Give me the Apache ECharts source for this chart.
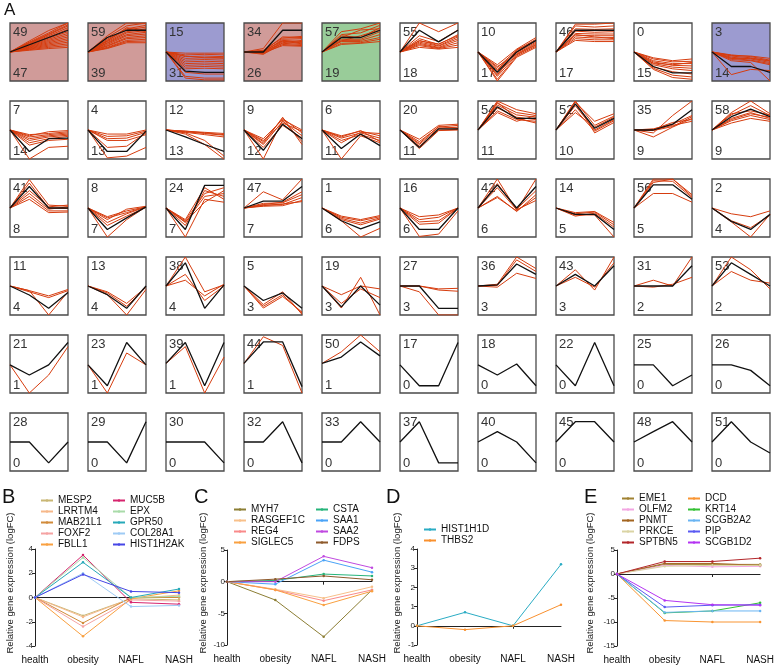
<!DOCTYPE html>
<html><head><meta charset="utf-8">
<script src="https://cdn.jsdelivr.net/npm/echarts/dist/echarts.min.js"></script>
<style>html,body{margin:0;padding:0;background:#fff}#c{width:777px;height:669px}</style>
</head><body><div id="c"></div><script>
// ---------- DATA ----------
const timePoints = ['health','obesity','NAFL','NASH'];

// Panel A: STEM profiles (row-major, 6 rows x 10 columns)
const profileIds = [49,59,15,34,57,55,10,46,0,3, 7,4,12,9,6,20,54,52,35,58, 41,8,24,47,1,16,42,14,56,2, 11,13,38,5,19,27,36,43,31,53, 21,23,39,44,50,17,18,22,25,26, 28,29,30,32,33,37,40,45,48,51];
const geneCounts = [47,39,31,26,19,18,17,17,15,14, 14,13,13,12,11,11,11,10,9,9, 8,7,7,7,6,6,6,5,5,4, 4,4,4,3,3,3,3,3,2,2, 1,1,1,1,1,0,0,0,0,0, 0,0,0,0,0,0,0,0,0,0];
const upProfiles = [49,59,34];
const downProfiles = [15,3];
const otherSigProfiles = [57];

const modelProfiles = [
 [5,6.25,7.5,8.75],[5,7.5,8.75,8.75],[5,1.7,1.5,1.5],[5,5,8.75,8.75],[5,7.5,7.5,8.75],[5,8.75,6.75,8.75],[5,1.5,5,7],[5,8.75,8.75,8.75],[5,2.5,1.4,1.4],[5,2.5,2.5,1.5],
 [5,1.3,3.5,3.6],[5,1.3,1.3,4.8],[5,3.8,2.5,1.3],[5,1.5,6,3.5],[5,1.8,4.3,2.3],[5,2,5.2,5.2],[5,9,7,7],[5,9.5,5.3,7],[5,5,6,8.5],[5,7.3,8.6,7.3],
 [5,8.7,5,5],[5,1.3,3.3,5.2],[5,1.3,8.9,8.9],[5,6.2,6.2,8.7],[5,2.8,1.4,2.6],[5,1.3,1.3,5],[5,9,5,8.7],[5,3.9,3.9,1.3],[5,9,9,6.5],[5,2.7,1.3,3.9],
 [5,3.45,1.15,3.9],[5,3.5,1.15,5],[5,9,1.15,5.2],[5,2.5,3.8,1.15],[5,1.4,5,1.7],[5,5,1.15,1.15],[5,5.2,8.8,7],[5,7,5,8.5],[5,5,5,8.5],[5,9,7,5],
 [4.85,3.1,4.85,8.7],[4.85,1.25,8.7,4.85],[5.1,8.7,1.25,8.7],[5.1,8.8,8.8,1.1],[5.1,6.2,8.8,6.4],[4.85,1.25,1.25,8.7],[4.85,3.1,5,1.25],[4.85,1.25,8.7,1.25],[4.85,4.85,1.25,3.1],[4.85,4.85,3.9,1.25],
 [5,5,1.4,5],[5,5,1.4,8.5],[5,5,5,1.4],[5,5,8.5,1.4],[5,5,8.5,5],[5,8.5,1.4,1.4],[5,6.8,5,1.4],[5,8.5,8.5,5],[5,6.8,8.5,5],[5,8.5,5,3.1]
];

const geneProfiles = [
 // row 1
 [[5,6.9,8.7,10],[5,6.7,8.3,10],[5,6.6,8.1,9.7],[5,6.5,8,9.5],[5,6.4,7.8,9.2],[5,6.3,7.6,8.9],[5,6.2,7.4,8.5],[5,6.1,7.2,8.2],[5,6,7,7.9],[5,5.9,6.8,7.6],[5,5.8,6.6,7.3],[5,5.7,6.4,7],[5,5.6,6.2,6.7],[5,5.5,6,6.4],[5,5.4,5.8,6.1],[5,5.3,5.6,5.8]],
 [[5,7.8,10,10],[5,7.5,9.5,10],[5,7.2,9,9.6],[5,7,8.8,9.3],[5,6.8,8.5,9],[5,6.6,8.3,8.7],[5,6.5,8,8.4],[5,6.3,7.8,8.1],[5,6.1,7.5,7.8],[5,6,7.3,7.5],[5,5.8,7,7.2],[5,5.7,6.8,6.9],[5,5.6,6.6,6.6],[5,6.9,9.2,8.5]],
 [[5,4.8,4.8,4.8],[5,4.5,4.6,4.5],[5,4.2,4.3,4.2],[5,3.9,4,3.9],[5,3.6,3.7,3.6],[5,3.3,3.4,3.3],[5,3,3.1,3],[5,2.7,2.8,2.7],[5,2.4,2.5,2.4],[5,2.1,2.2,2.1],[5,1.5,1.2,1.2],[5,0.5,0.2,0.2],[5,0.8,0.5,0.5],[5,4.3,4,4.1]],
 [[5,5.6,10,10],[5,5.2,7.6,7.5],[5,4.9,7.2,7.3],[5,5.1,7,6.8],[5,4.8,6.8,6.6],[5,5,6.5,6.3],[5,4.7,6.3,6.1],[5,5.3,7.4,7.7],[5,4.9,6.1,6],[5,4.6,6.6,7],[5,5.2,6.9,6.4]],
 [[5,8.5,9,10],[5,8,8.3,9.6],[5,7.8,7.5,9.2],[5,7.2,7.2,8.5],[5,7,7,8],[5,6.8,6.8,7.5],[5,6.5,6.6,7.2],[5,6.3,6.5,6.8],[5,7.5,8.8,9],[5,6.9,7.8,8.8]],
 [[5,10,8.5,10],[5,7.3,6.3,8],[5,7,6.1,7.6],[5,6.7,6,7.3],[5,6.5,5.8,7],[5,6.3,5.7,6.6],[5,6.1,5.6,6.2],[5,5.8,5.5,5.8],[5,7.8,6.8,8.8],[5,6.9,6.4,7.8]],
 [[5,2.8,5.5,7.5],[5,2.3,5.3,7.2],[5,2,5.1,7],[5,1.8,4.9,6.7],[5,1.2,4.7,6.5],[5,0.8,4.5,6.2],[5,0.3,4.3,6],[5,0,4.1,5.8],[5,2.5,4.6,6.3],[5,1,5.4,6.9]],
 [[5,9.8,9.8,10],[5,9.5,9.3,9.5],[5,9,8.9,9],[5,8.6,8.4,8.5],[5,8.2,8.1,8.1],[5,7.9,7.8,7.8],[5,7.6,7.4,7.5],[5,7.3,7.1,7.1],[5,7,6.8,6.8],[5,8,7.6,7.3]],
 [[5,4,3.5,3.8],[5,3.8,3.3,3.4],[5,3.5,3,3],[5,3.3,2.7,2.6],[5,3,2.4,2.2],[5,2.8,2.1,1.8],[5,2.2,1,0.7],[5,2,0.6,0.3],[5,2.4,1.6,1.2],[5,3.1,2.8,3.2]],
 [[5,4.5,4.2,3.6],[5,4.3,4,3.4],[5,4.1,3.8,3.2],[5,3.9,3.6,3],[5,3.7,3.5,2.8],[5,1.1,2,1.8],[5,3.5,3.2,0],[5,3.9,3.9,3.5],[5,4.4,4.3,3.9]],
 // row 2
 [[5,4.2,4.4,4.7],[5,3.8,4.2,4.5],[5,3.5,4,4.3],[5,3.2,3.8,4.1],[5,2.8,3.5,3.9],[5,0,2,2.2],[5,4,4.7,4.9],[5,2.4,3.2,3.4]],
 [[5,4.3,4.3,5],[5,3.9,4,4.8],[5,3.5,3.6,4.6],[5,2,2.2,4.5],[5,0.2,0.5,2],[5,3.2,3.2,4.2]],
 [[5,4.8,4.6,4.4],[5,4.7,4.4,4.1],[5,4.6,4.2,3.8],[5,4.5,3.2,0.5],[5,4.3,2.5,0],[5,4.8,4.5,4.2]],
 [[5,3,7,4.5],[5,2.5,6.5,4],[5,0,6.7,3],[5,3.5,6.8,5],[5,2,5.8,3.6],[5,3.2,6.2,4.8],[5,2.7,7.2,2.5]],
 [[5,4,4.8,4],[5,3.6,4.5,3.6],[5,3.2,4.2,3.2],[5,0,4,2.8],[5,2.8,4.6,4.4],[5,3.8,4.9,3]],
 [[5,3,5.5,5.8],[5,2.5,5.3,5.5],[5,2.2,5,5.1],[5,2.7,5.6,5.3],[5,1.8,4.9,5],[5,3.4,5.8,6]],
 [[5,10,8.5,7.8],[5,9.6,8,7.5],[5,9.3,7.6,7.2],[5,8.8,7.2,6.8],[5,8.3,6.8,6.5],[5,8,6.5,7.5],[5,9.8,7,6.2]],
 [[5,10,5.8,7.4],[5,9.8,6.5,7.8],[5,9.2,5,6.8],[5,8.5,4.8,6.6],[5,8,5.5,7.2],[5,10,4.5,6.3]],
 [[5,4.5,7.5,10],[5,3.8,5.5,7],[5,5.2,6,7.5],[5,5,5.8,6.5],[5,5.1,6.3,6.8],[5,4.9,5.6,7.3]],
 [[5,8,10,7.8],[5,7.6,9.2,7.5],[5,7,8,7],[5,6.6,7.5,6.8],[5,6.2,7,6.5],[5,7.8,8.3,7.6],[5,6.8,7.8,7.2]],
 // row 3
 [[5,9.9,5.5,5.3],[5,8,5.2,5.5],[5,7.5,4.8,5.2],[5,7,4.5,4.5],[5,6.5,4.2,4.3],[5,9.3,5,4.9]],
 [[5,3.5,4.5,5.2],[5,3.3,4.2,5.2],[5,2.5,4,5.2],[5,0,3,5.2],[5,2,3.6,5.1],[5,3,4.8,5.3]],
 [[5,3,8.5,6.5],[5,2.8,7.5,8.5],[5,2.5,7,7.5],[5,0,6.5,6],[5,2,8,7],[5,2.6,6,8]],
 [[5,7.8,6.4,10],[5,5.8,5.9,7.3],[5,5.5,5.6,6.8],[5,5.3,5.4,6.3],[5,5.6,6,7.8],[5,5.4,5.7,6.1]],
 [[5,3.4,2.8,3.5],[5,3.2,2.4,3.3],[5,3,2.1,3.1],[5,2.8,0,1.5],[5,3.6,3,3.7]],
 [[5,3.5,3.8,5],[5,3,3.4,5],[5,2.6,2.8,5],[5,2.2,2.4,5],[5,0.1,0.5,4.5]],
 [[5,10,4.6,10],[5,7,4.4,7.3],[5,6.8,4.5,6.8],[5,9.2,4.8,8],[5,8.5,4.7,6.3]],
 [[5,4.2,4.4,2.5],[5,4,4.3,2.1],[5,3.6,4.1,1.7],[5,3.8,3.8,0]],
 [[5,10,10,7],[5,9.7,9.6,6.8],[5,9.4,10,7.3],[5,7.5,7.5,6]],
 [[5,4,3.5,4.5],[5,2.8,1.6,3.8],[5,2.6,0,3.9]],
 // row 4
 [[5,4.2,3.3,4.4],[5,4,3,4.2],[5,4.2,0,4]],
 [[5,4,2,4.8],[5,3.8,1.5,4.8],[5,3.5,0,4.4]],
 [[5,10,4,5.2],[5,7,2.5,5],[5,6,3.3,5.3]],
 [[5,1.2,3.2,0.5],[5,1.5,3.5,0.3],[5,1.8,4,0.1]],
 [[5,1.2,6.5,0],[5,3.5,5,4.5],[5,2,4.5,3]],
 [[5,5,4.5,4.6],[5,5,4.3,4.1],[5,4,0,0]],
 [[5,5.3,10,8],[5,5.1,9.5,7.5],[5,4.8,7.2,6.3]],
 [[5,7.8,4.3,10],[5,6.5,4.8,9]],
 [[5,6,5,10],[5,4.8,5.3,6.5]],
 [[5,10,7.8,4.5],[5,7.5,6,5.5]],
 // row 5
 [[4.85,0,3.1,8]],[[4.85,0,6.9,4.85]],[[5.1,8,0,6.2]],[[5.1,9.7,8.2,0]],[[5.1,7.1,10,7.1]],[],[],[],[],[],
 // row 6
 [],[],[],[],[],[],[],[],[],[]
];

// Panel B
const bGenes = ['MESP2','LRRTM4','MAB21L1','FOXF2','FBLL1','MUC5B','EPX','GPR50','COL28A1','HIST1H2AK'];
const bValues = [[0,-1.5,-0.1,-0.2],[0,-1.6,-0.1,0.2],[0,-2.1,0,0],[0,-2.4,-0.2,-0.3],[0,-3.2,-0.1,0.55],[0,3.5,-0.4,-0.55],[0,3.3,0,0.1],[0,2.9,0,0.7],[0,2.0,-0.75,-0.65],[0,1.9,0.5,0.4]];
// Panel C
const cGenes = ['MYH7','RASGEF1C','REG4','SIGLEC5','CSTA','SAA1','SAA2','FDPS'];
const cValues = [[0,-2.9,-8.7,-1.3],[0,-1.2,-2.6,-0.8],[0,-1.3,-3.0,-1.3],[0,-1.3,-3.7,-1.5],[0,0.2,1.2,0.9],[0,-0.4,3.4,1.5],[0,0,4.0,2.2],[0,0.4,0.9,0.3]];
// Panel D
const dGenes = ['HIST1H1D','THBS2'];
const dValues = [[0,0.7,0,3.2],[0,-0.2,0,1.1]];
// Panel E
const eGenes = ['EME1','OLFM2','PNMT','PRKCE','SPTBN5','DCD','KRT14','SCGB2A2','PIP','SCGB1D2'];
const eValues = [[0,2.0,2.0,2.0],[0,1.8,1.5,1.6],[0,2.2,2.2,1.8],[0,1.6,1.8,1.8],[0,2.6,2.6,3.3],[0,-9.7,-10,-10],[0,-8.1,-7.7,-6.0],[0,-8.0,-7.7,-7.7],[0,-6.9,-6.5,-6.4],[0,-5.5,-6.4,-6.5]];
const yAxisName = 'Relative gene expression (logFC)';

// ---------- STYLES / LAYOUT ----------
const FONT = '"Liberation Sans", Arial, Helvetica, sans-serif';
const bColors = ['#c9b774','#f6b88a','#d18b3a','#f5a3a3','#f9a040','#d6246e','#a9dba9','#26a9b9','#9ecbf5','#4646e6'];
const cColors = ['#8c7e34','#f8c08a','#f98a8a','#f9a040','#26b47a','#4aa3f7','#c04ae0','#8e5a2c'];
const dColors = ['#2aacc4','#f9902e'];
const eColors = ['#a08232','#f2a6e2','#a3641f','#dad4a4','#b3262a','#f99532','#34c034','#6ab4f2','#5a5af2','#b434f2'];

const chart = echarts.init(document.getElementById('c'), null, {renderer:'canvas'});
const grid=[], xAxis=[], yAxis=[], series=[], graphic=[], legend=[];

function cellBg(pid){
  if (upProfiles.includes(pid)) return '#d09b99';
  if (downProfiles.includes(pid)) return '#9c9bd0';
  if (otherSigProfiles.includes(pid)) return '#99cc99';
  return '#ffffff';
}

profileIds.forEach((pid,i)=>{
  const r=Math.floor(i/10), c=i%10;
  const left=10+78*c, top=23+78*r;
  grid.push({left, top, width:58, height:58, show:true, borderColor:'#4a4a4a', borderWidth:1.3, backgroundColor:cellBg(pid)});
  xAxis.push({type:'category', gridIndex:i, data:timePoints, boundaryGap:false, show:false});
  yAxis.push({type:'value', gridIndex:i, min:0, max:10, show:false});
  geneProfiles[i].forEach(g=>series.push({type:'line', xAxisIndex:i, yAxisIndex:i, data:g, symbol:'none', silent:true,
    lineStyle:{color:'#d63c0e', width:1}, z:3}));
  series.push({type:'line', xAxisIndex:i, yAxisIndex:i, data:modelProfiles[i], symbol:'none', silent:true,
    lineStyle:{color:'#111', width:1.3}, z:4});
  graphic.push({type:'text', left:left+3, top:top+3, z:2, style:{text:String(pid), font:'13px '+FONT, fill:'#333'}});
  graphic.push({type:'text', left:left+3, top:top+44, z:2, style:{text:String(geneCounts[i]), font:'13px '+FONT, fill:'#333'}});
});

graphic.push({type:'text', left:4, top:2, style:{text:'A', font:'17px '+FONT, fill:'#111'}});

const panels = [
  {label:'B', lx:2, genes:bGenes, vals:bValues, colors:bColors, grid:{left:35,top:549,width:144,height:97}, y:{min:-4,max:4,interval:2}, nameX:10, leg:[{left:40,top:495},{left:112,top:495}], split:5},
  {label:'C', lx:194, genes:cGenes, vals:cValues, colors:cColors, grid:{left:227,top:550,width:145,height:95}, y:{min:-10,max:5,interval:5}, nameX:203, leg:[{left:233,top:504},{left:315,top:504}], split:4},
  {label:'D', lx:386, genes:dGenes, vals:dValues, colors:dColors, grid:{left:417,top:549,width:144,height:96}, y:{min:-1,max:4,interval:1}, nameX:397, leg:[{left:423,top:524}], split:2},
  {label:'E', lx:584, genes:eGenes, vals:eValues, colors:eColors, grid:{left:617,top:550,width:144,height:96}, y:{min:-15,max:5,interval:5}, nameX:590, leg:[{left:621,top:493},{left:687,top:493}], split:5}
];

panels.forEach(p=>{
  const gi = grid.length;
  grid.push(Object.assign({show:false}, p.grid));
  const xi = xAxis.length;
  xAxis.push({type:'category', gridIndex:gi, data:timePoints, boundaryGap:false, position:'bottom',
    axisLine:{onZero:true, lineStyle:{color:'#222', width:1}}, axisTick:{show:true, length:3, lineStyle:{color:'#222'}}, axisLabel:{show:false}});
  xAxis.push({type:'category', gridIndex:gi, data:timePoints, boundaryGap:false, position:'bottom',
    axisLine:{show:false, onZero:false}, axisTick:{show:false}, axisLabel:{show:true, margin:9, fontSize:10, fontFamily:FONT, color:'#111'}});
  const yi = yAxis.length;
  yAxis.push({type:'value', gridIndex:gi, min:p.y.min, max:p.y.max, interval:p.y.interval,
    axisLine:{show:true, lineStyle:{color:'#222', width:1}}, axisTick:{show:true, length:3, lineStyle:{color:'#222'}},
    axisLabel:{fontSize:8, margin:2, fontFamily:FONT, color:'#222'}, splitLine:{show:false}});
  p.genes.forEach((g,k)=>{
    series.push({type:'line', name:g, xAxisIndex:xi, yAxisIndex:yi, data:p.vals[k], symbol:'circle', symbolSize:2.5,
      color:p.colors[k], lineStyle:{color:p.colors[k], width:1}, z:3});
  });
  const cols = p.leg.length===2 ? [p.genes.slice(0,p.split), p.genes.slice(p.split)] : [p.genes];
  cols.forEach((names,ci)=>{
    legend.push({orient:'vertical', left:p.leg[ci].left, top:p.leg[ci].top, data:names, itemWidth:12, itemHeight:3, itemGap:0,
      padding:0, selectedMode:false, textStyle:{fontSize:10, lineHeight:11, fontFamily:FONT, color:'#111', padding:[0,0,0,0]}});
  });
  graphic.push({type:'text', left:p.lx, top:487, style:{text:p.label, font:'20px '+FONT, fill:'#111'}});
  graphic.push({type:'text', x:p.nameX, y:583, rotation:Math.PI/2, style:{text:yAxisName, font:'9.5px '+FONT, fill:'#222', align:'center', verticalAlign:'middle'}});
});

chart.setOption({animation:false, backgroundColor:'#fff', grid, xAxis, yAxis, series, legend, graphic});
</script></body></html>
